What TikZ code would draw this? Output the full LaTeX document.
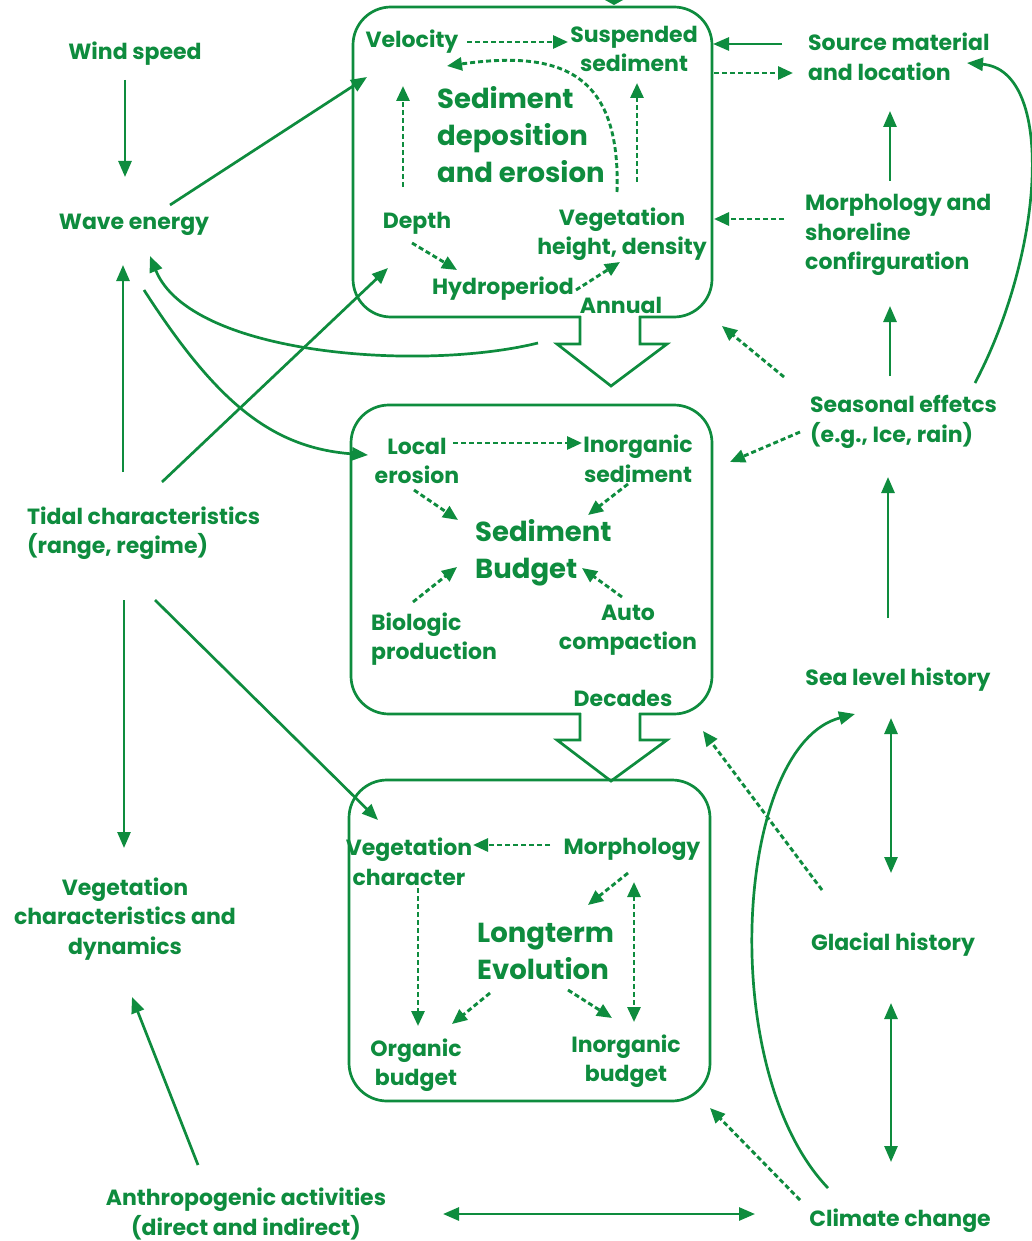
\documentclass[tikz,border=0pt]{standalone}
\usepackage{fontspec}
\setmainfont{Poppins}
\usetikzlibrary{arrows.meta,calc}
\definecolor{gc}{RGB}{14,140,62}
\tikzset{
 lbl/.style={text=gc, font=\bfseries\fontsize{22}{29.5}\selectfont, inner sep=0pt, align=center, yshift=-2pt},
 big/.style={text=gc, font=\bfseries\fontsize{27.5}{37}\selectfont, inner sep=0pt, align=left},
 boxs/.style={draw=gc, line width=2.7pt, rounded corners=38pt},
 sar/.style={draw=gc, line width=2.7pt, -{Triangle[length=16pt,width=13pt]}},
 dar/.style={draw=gc, line width=2.9pt, dash pattern=on 5pt off 3pt, -{Triangle[length=15pt,width=13pt]}},
 sdb/.style={draw=gc, line width=2.7pt, {Triangle[length=16pt,width=13pt]}-{Triangle[length=16pt,width=13pt]}},
 ddb/.style={draw=gc, line width=2.9pt, dash pattern=on 5pt off 3pt, {Triangle[length=15pt,width=13pt]}-{Triangle[length=15pt,width=13pt]}},
}
\begin{document}
\begin{tikzpicture}[x=1pt,y=-1pt]
\useasboundingbox (0,0) rectangle (1032,1241);
\clip (0,0) rectangle (1032,1241);
\fill[white] (0,0) rectangle (1032,1241);

% boxes
\node[boxs, minimum width=359pt, minimum height=310pt] (tb) at (532.5,162) {};
\node[boxs, minimum width=361pt, minimum height=309pt] (mb) at (531.5,559.5) {};
\node[boxs, minimum width=361pt, minimum height=321pt] (bb) at (529.5,940.5) {};

% big hollow arrows
\fill[white] (581.4,312) rectangle (638.6,320);
\draw[gc, line width=2.7pt, line join=miter] (580,316) -- (580,344) -- (557,344) -- (611,386) -- (667,344) -- (640,344) -- (640,316);
\fill[white] (581.4,709) rectangle (638.6,717);
\draw[gc, line width=2.7pt, line join=miter] (580,713) -- (580,740) -- (557,740) -- (611,781) -- (667,740) -- (640,740) -- (640,713);
% partial arrow head at top edge
\fill[gc] (605,0) -- (623,0) -- (614,5) -- cycle;

% top box texts
\node[lbl] (vel) at (412,40) {Velocity};
\node[lbl] (sus) at (634,47) {Suspended\\sediment};
\node[big, anchor=west] (sde) at (437,135) {Sediment\\deposition\\and erosion};
\node[lbl] (dep) at (417,221) {Depth};
\node[lbl] (veg) at (622,232) {Vegetation\\height, density};
\node[lbl] (hyd) at (503,287) {Hydroperiod};
\node[lbl] (ann) at (621,303) {Annual};

% middle box texts
\node[lbl] (loc) at (417,459) {Local\\erosion};
\node[lbl] (ino) at (638,457) {Inorganic\\sediment};
\node[big, anchor=west] (sb) at (475,553) {Sediment\\Budget};
\node[lbl, anchor=west, align=left] (bio) at (371,637) {Biologic\\production};
\node[lbl] (auto) at (628,628) {Auto\\compaction};
\node[lbl] (dec) at (623,696) {Decades};

% bottom box texts
\node[lbl] (vch) at (409,860) {Vegetation\\character};
\node[lbl] (mor) at (632,847) {Morphology};
\node[big, anchor=west] (lte) at (477,951) {Longterm\\Evolution};
\node[lbl] (org) at (416,1063) {Organic\\budget};
\node[lbl] (inb) at (626,1059) {Inorganic\\budget};

% left texts
\node[lbl] (ws) at (135,52) {Wind speed};
\node[lbl] (we) at (134,223) {Wave energy};
\node[lbl, anchor=west, align=left] (tc) at (27,531) {Tidal characteristics\\(range, regime)};
\node[lbl] (vcd) at (125,917) {Vegetation\\characteristics and\\dynamics};
\node[lbl] (anth) at (246,1212) {Anthropogenic activities\\(direct and indirect)};

% right texts
\node[lbl, anchor=west, align=left] (src) at (808,55) {Source material\\and location};
\node[lbl, anchor=west, align=left] (msc) at (805,233) {Morphology and\\shoreline\\confirguration};
\node[lbl, anchor=west, align=left] (sea) at (810,420) {Seasonal effetcs\\(e.g., Ice, rain)};
\node[lbl] (slh) at (898,678) {Sea level history};
\node[lbl] (gla) at (893,943) {Glacial history};
\node[lbl] (cli) at (900,1219) {Climate change};

% top box internal connectors
\draw[dar] (467,42) -- (568,42);
\draw[dar] (617,192) .. controls (621,72) and (560,50) .. (447,66);
\draw[dar] (403,187) -- (403,86);
\draw[dar] (637,182) -- (637,83);
\draw[dar] (412,243) -- (457,270);
\draw[dar] (576,290) -- (620,262);

% middle box internal connectors
\draw[dar] (453,443) -- (582,443);
\draw[dar] (414,490) -- (458,520);
\draw[dar] (628,484) -- (588,515);
\draw[dar] (413,602) -- (457,567);
\draw[dar] (622,597) -- (582,568);

% bottom box internal connectors
\draw[dar] (550,845) -- (473,845);
\draw[dar] (418,888) -- (418,1026);
\draw[dar] (628,873) -- (588,905);
\draw[ddb] (634,882) -- (634,1022);
\draw[dar] (490,993) -- (452,1024);
\draw[dar] (568,990) -- (612,1018);

% left side connectors
\draw[sar] (125,80) -- (125,177);
\draw[sar] (170,205) -- (367,77);
\draw[sar] (123,472) -- (123,265);
\draw[sar] (162,482) -- (388,268);
\draw[sar] (144,290) .. controls (215,400) and (270,448) .. (368,455);
\draw[sar] (538,343) .. controls (420,372) and (190,355) .. (150,256);
\draw[sar] (124,600) -- (124,848);
\draw[sar] (155,600) -- (378,820);
\draw[sar] (198,1165) -- (132,997);
\draw[sdb] (443,1214) -- (755,1214);

% right side connectors
\draw[sar] (782,44) -- (713,44);
\draw[dar] (714,73) -- (793,73);
\draw[dar] (784,219) -- (714,219);
\draw[sar] (890,181) -- (890,111);
\draw[sar] (890,376) -- (890,306);
\draw[dar] (784,377) -- (722,326);
\draw[dar] (800,432) -- (730,462);
\draw[sar] (975,383) .. controls (1045,250) and (1055,70) .. (967,63);
\draw[sar] (888,618) -- (888,477);
\draw[sdb] (891,718) -- (891,873);
\draw[sdb] (891,1003) -- (891,1162);
\draw[sar] (828,1188) .. controls (715,1070) and (735,745) .. (855,714);
\draw[dar] (822,890) -- (703,731);
\draw[dar] (800,1200) -- (710,1108);
\end{tikzpicture}
\end{document}
